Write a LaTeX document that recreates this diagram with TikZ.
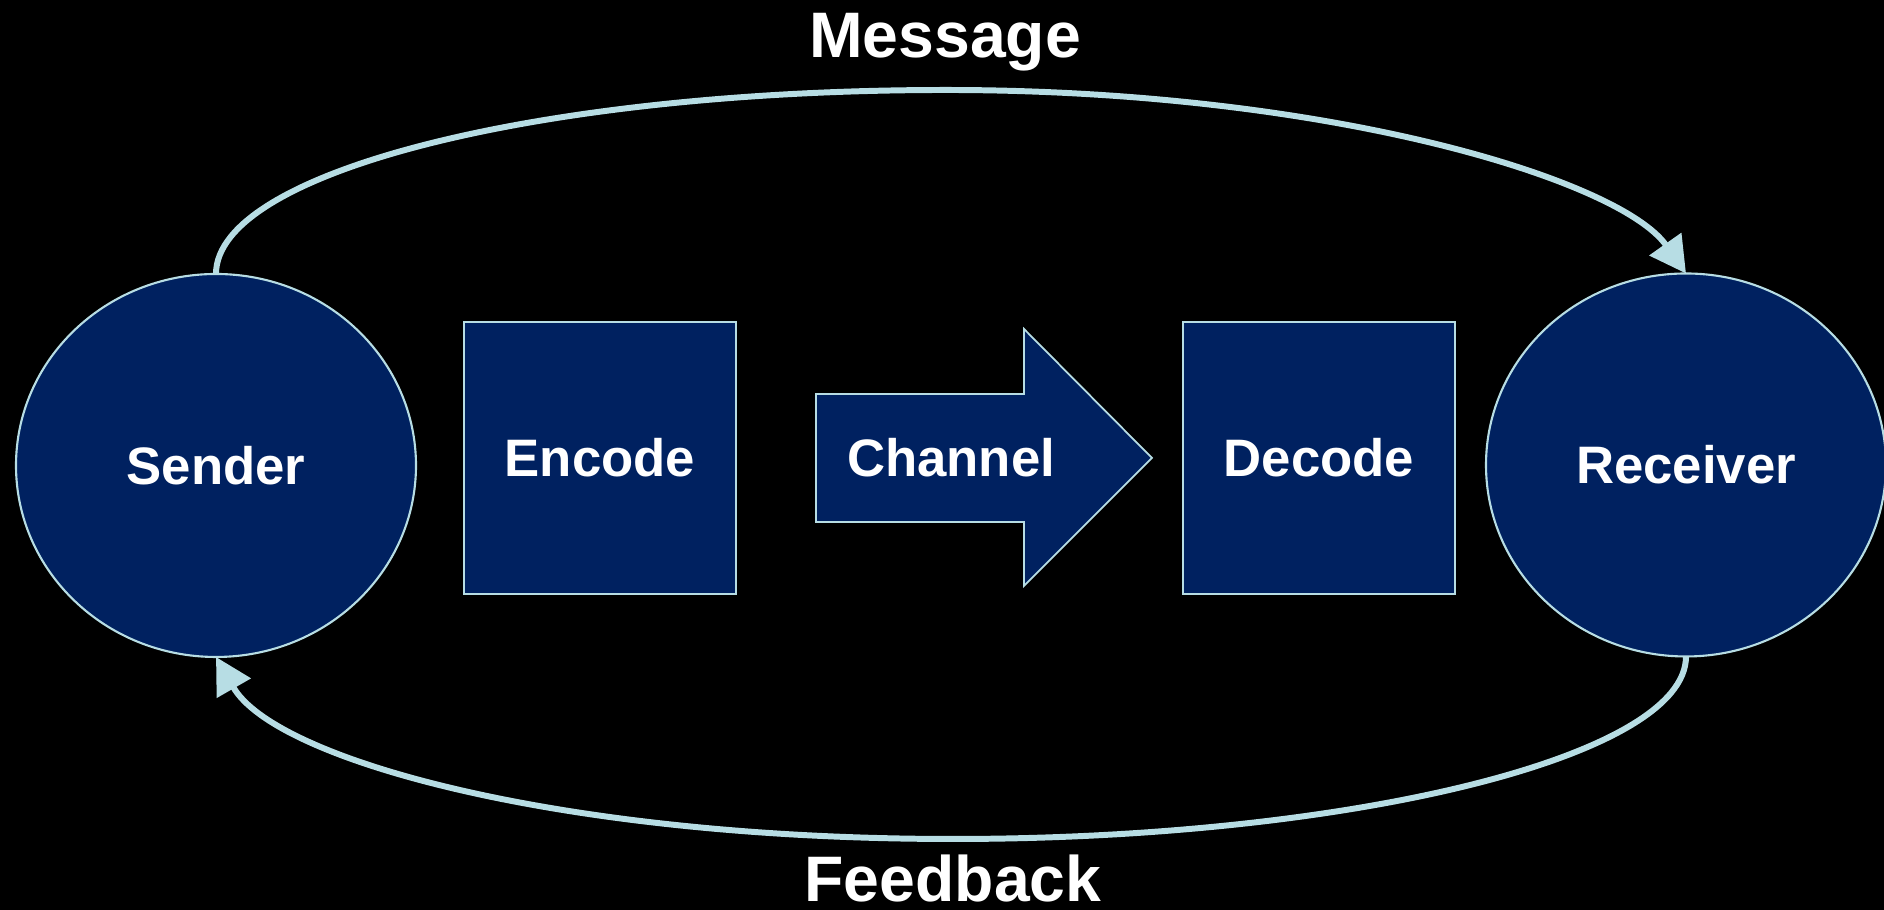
\documentclass[tikz,border=0pt]{standalone}
\usepackage{fontspec}
\setmainfont{Liberation Sans}
\usetikzlibrary{shapes.geometric, arrows.meta}

\definecolor{navy}{RGB}{0,33,96}
\definecolor{pale}{RGB}{183,221,228}

\begin{document}
\begin{tikzpicture}[
    party/.style={ellipse, draw=pale, fill=navy, line width=0.6pt, inner sep=0pt, outer sep=0pt,
                  minimum width=4cm, minimum height=3.83cm, text=white, font=\fontsize{15}{18}\selectfont\bfseries},
    coder/.style={rectangle, draw=pale, fill=navy, line width=0.5pt, inner sep=0pt, outer sep=0pt,
                  minimum width=2.72cm, minimum height=2.72cm, text=white, font=\fontsize{15}{18}\selectfont\bfseries},
    loop/.style={draw=pale, line width=1.7pt, -{Triangle[length=0.36cm, width=0.38cm]}},
    caption/.style={text=white, font=\fontsize{18.3}{22}\selectfont\bfseries, inner sep=0pt, anchor=base}
]
    % Black slide, 1 px of the original = 0.1 mm
    \fill[black] (0,0) rectangle (18.84,9.10);
    \useasboundingbox (0,0) rectangle (18.84,9.10);

    % The two parties
    \node[party] (sender) at (2.16,4.445) {Sender};
    \node[party] (receiver) at (16.86,4.45) {Receiver};

    % Coding steps
    \node[coder] (encode) at (6.00,4.52) {Encode};
    \node[coder] (decode) at (13.19,4.52) {Decode};

    % Channel block arrow (drawn as an outline, label on top)
    \filldraw[fill=navy, draw=pale, line width=0.5pt]
        (8.16,5.16) -- (10.24,5.16) -- (10.24,5.81) -- (11.52,4.52)
        -- (10.24,3.24) -- (10.24,3.88) -- (8.16,3.88) -- cycle;
    \node[text=white, font=\fontsize{15}{18}\selectfont\bfseries] (channel) at (9.51,4.52) {Channel};

    % Message loop over the top
    \draw[loop] (sender.north) .. controls (2.16,7.38) and (5.40,8.20) .. (9.46,8.20)
        .. controls (13.30,8.20) and (16.20,7.30) .. (receiver.north);
    \node[caption] (message) at (9.45,8.52) {Message};

    % Feedback loop underneath
    \draw[loop] (receiver.south) .. controls (16.86,1.53) and (13.50,0.71) .. (9.53,0.71)
        .. controls (5.60,0.71) and (2.75,1.50) .. (sender.south);
    \node[caption] (feedback) at (9.53,0.08) {Feedback};
\end{tikzpicture}
\end{document}
